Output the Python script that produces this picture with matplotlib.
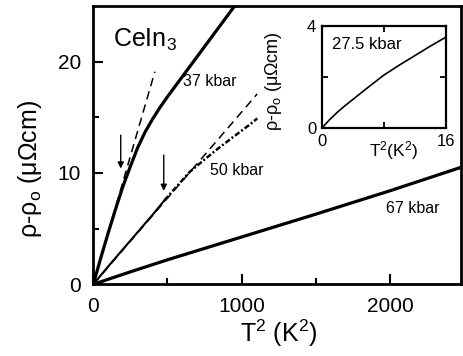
import numpy as np
import matplotlib
matplotlib.use("Agg")
import matplotlib.pyplot as plt

plt.rcParams['font.family'] = ['Liberation Sans', 'DejaVu Sans']
plt.rcParams['mathtext.fontset'] = 'custom'
plt.rcParams['mathtext.rm'] = 'Liberation Sans'
plt.rcParams['mathtext.it'] = 'Liberation Sans:italic'
plt.rcParams['mathtext.bf'] = 'Liberation Sans:bold'

# ---- data: rho - rho0 (micro-ohm cm) versus T^2 (K^2) ----
t2_37 = [0, 50, 100, 150, 200, 250, 300, 350, 400, 450, 500, 600, 700, 800, 900, 950, 980]
rho_37 = [0, 2.35, 4.6, 6.75, 8.8, 10.6, 12.3, 13.7, 14.85, 15.9, 16.85, 18.65, 20.45,
          22.25, 24.05, 24.95, 25.5]
fit_37_t2 = [0, 415]
fit_37_rho = [0, 19.1]

t2_50_low = [0, 100, 200, 300, 400, 480]
rho_50_low = [0, 1.6, 3.15, 4.7, 6.25, 7.55]
t2_50_high = [480, 560, 650, 740, 832, 920, 1000, 1060, 1105]
rho_50_high = [7.55, 8.75, 10.1, 11.1, 12.1, 13.0, 13.8, 14.4, 14.9]
fit_50_t2 = [0, 1105]
fit_50_rho = [0, 17.1]

t2_67 = [0, 250, 500, 1000, 1500, 2000, 2500]
rho_67 = [0, 1.12, 2.2, 4.25, 6.3, 8.4, 10.6]

arrow_37 = (185, 13.4, 10.4)   # T^2, arrow tail rho, arrow head rho
arrow_50 = (475, 11.6, 8.4)

# inset: 27.5 kbar
t2_27 = [0, 1, 2, 3, 4, 6, 8, 10, 12, 14, 16]
rho_27 = [0, 0.33, 0.62, 0.88, 1.12, 1.6, 2.07, 2.46, 2.83, 3.2, 3.55]

W, H = 464, 356
fig = plt.figure(figsize=(W / 100, H / 100), dpi=100)
ax = fig.add_axes([93.3 / W, 1 - 284.3 / H, (460.7 - 93.3) / W, (284.3 - 6) / H])

ax.plot(t2_37, rho_37, color='k', lw=2.3, solid_capstyle='butt')
ax.plot(fit_37_t2, fit_37_rho, color='k', lw=1.1, linestyle=(0, (5.5, 3.5)))
ax.plot(t2_50_low, rho_50_low, color='k', lw=1.5)
ax.plot(t2_50_high, rho_50_high, color='k', lw=1.8, linestyle=(0, (2.2, 0.9, 0.8, 0.9)))
ax.plot(fit_50_t2, fit_50_rho, color='k', lw=1.1, linestyle=(0, (5.5, 3.5)))
ax.plot(t2_67, rho_67, color='k', lw=2.3)

for x, y0, y1 in (arrow_37, arrow_50):
    ax.annotate('', xy=(x, y1), xytext=(x, y0),
                arrowprops=dict(arrowstyle='-|>', color='k', lw=1.0,
                                mutation_scale=9, shrinkA=0, shrinkB=0))

ax.text(135, 21.35, 'CeIn$_3$', fontsize=18, ha='left', va='baseline')
ax.text(605, 18.2, '37 kbar', fontsize=11.5, ha='left', va='center')
ax.text(787, 10.2, '50 kbar', fontsize=11.5, ha='left', va='center')
ax.text(1976, 6.85, '67 kbar', fontsize=11.5, ha='left', va='center')

ax.set_xlim(0, 2477)
ax.set_ylim(0, 25)
ax.set_xticks([0, 1000, 2000])
ax.set_xticks([500, 1500], minor=True)
ax.set_yticks([0, 10, 20])
ax.set_yticks([5, 15], minor=True)
ax.tick_params(which='both', direction='in', width=1.5, top=False, right=False,
               labelsize=15)
ax.tick_params(which='major', length=7)
ax.tick_params(which='minor', length=4)
ax.tick_params(axis='y', pad=9)
ax.tick_params(axis='x', pad=9)
for s in ax.spines.values():
    s.set_linewidth(2)

ax.set_xlabel('T$^2$ (K$^2$)', fontsize=18)
ax.set_ylabel('ρ-ρ$_\\mathrm{o}$ (μΩcm)', fontsize=18)
ax.xaxis.set_label_coords(0.505, -0.12)
ax.yaxis.set_label_coords(-0.135, 0.414)

# inset
axi = fig.add_axes([321.7 / W, 1 - 128.3 / H, (445.7 - 321.7) / W, (128.3 - 25.7) / H])
axi.plot(t2_27, rho_27, color='k', lw=1.2)
axi.text(1.37, 3.25, '27.5 kbar', fontsize=12, ha='left', va='center')
axi.set_xlim(0, 16)
axi.set_ylim(0, 4)
axi.set_xticks([0, 8, 16])
axi.set_xticklabels(['0', '', '16'])
axi.set_yticks([0, 2, 4])
axi.set_yticklabels(['0', '', '4'])
axi.tick_params(direction='in', length=4, width=1.3, top=True, right=True,
                labelsize=12, pad=4)
for s in axi.spines.values():
    s.set_linewidth(1.6)
axi.set_xlabel('T$^2$(K$^2$)', fontsize=12.5)
axi.set_ylabel('ρ-ρ$_\\mathrm{o}$ (μΩcm)', fontsize=13)
axi.xaxis.set_label_coords(0.58, -0.11)
axi.xaxis.label.set_va('top')
axi.yaxis.set_label_coords(-0.3, 0.46)

fig.savefig('out.png', dpi=100)
